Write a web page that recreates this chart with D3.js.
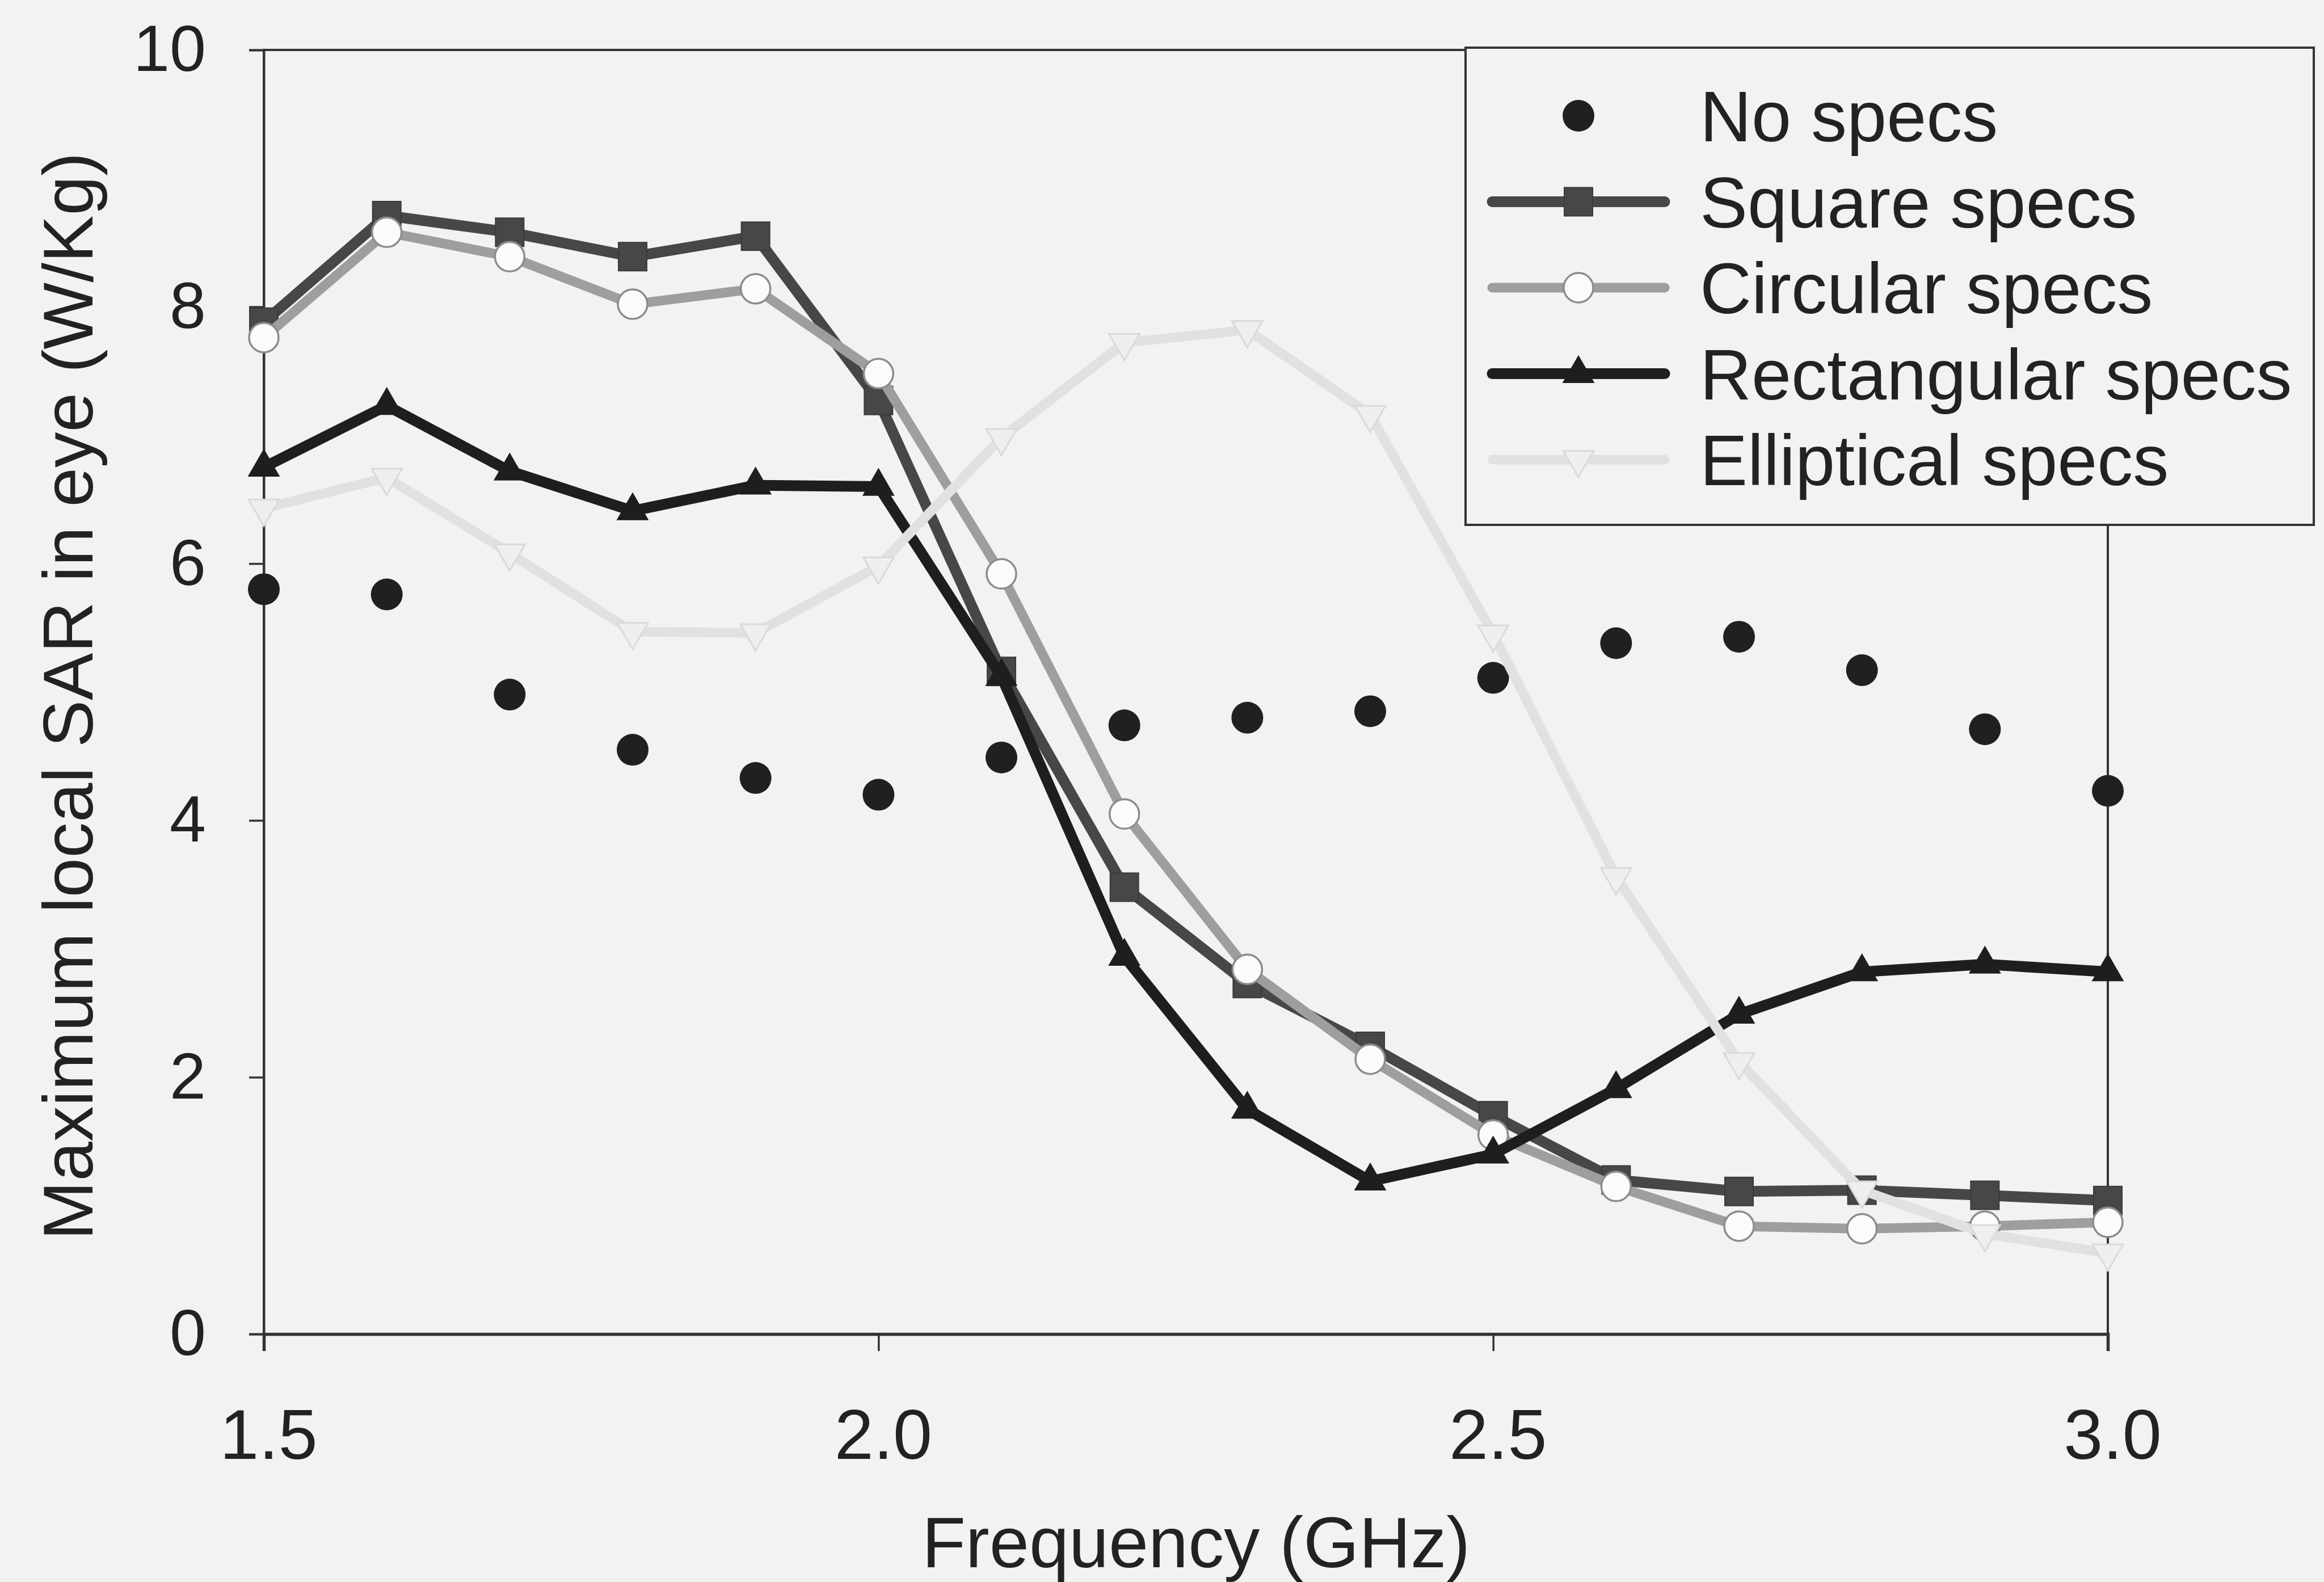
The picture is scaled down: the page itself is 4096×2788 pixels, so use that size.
<!DOCTYPE html>
<html>
<head>
<meta charset="utf-8">
<script src="https://cdn.jsdelivr.net/npm/d3@7"></script>
<style>
  html, body { margin: 0; padding: 0; background: #f2f2f2; }
  svg { display: block; }
  text { font-family: "Liberation Sans", Arial, sans-serif; fill: #222; }
</style>
</head>
<body>
<svg id="chart" width="4096" height="2788"></svg>
<script>
// Frequency sweep (GHz)
const frequency = [1.5, 1.6, 1.7, 1.8, 1.9, 2.0, 2.1, 2.2, 2.3, 2.4, 2.5, 2.6, 2.7, 2.8, 2.9, 3.0];

// Maximum local SAR in the eye (W/Kg) for each spectacle shape
const noSpecs     = [5.80, 5.76, 4.98, 4.55, 4.33, 4.20, 4.49, 4.74, 4.80, 4.85, 5.11, 5.38, 5.43, 5.17, 4.71, 4.23];
const squareSpecs = [7.88, 8.71, 8.58, 8.39, 8.55, 7.27, 5.16, 3.48, 2.73, 2.24, 1.70, 1.20, 1.11, 1.12, 1.08, 1.04];
const circSpecs   = [7.76, 8.58, 8.39, 8.02, 8.14, 7.48, 5.92, 4.05, 2.84, 2.14, 1.55, 1.15, 0.84, 0.82, 0.84, 0.87];
const rectSpecs   = [6.75, 7.23, 6.72, 6.41, 6.61, 6.60, 5.12, 2.94, 1.75, 1.19, 1.40, 1.91, 2.49, 2.82, 2.88, 2.82];
const ellipSpecs  = [6.43, 6.67, 6.08, 5.47, 5.46, 5.98, 6.98, 7.72, 7.82, 7.16, 5.45, 3.56, 2.12, 1.12, 0.78, 0.63];

const seriesNames = ["No specs", "Square specs", "Circular specs", "Rectangular specs", "Elliptical specs"];

// Axis ticks
const xTicks = [1.5, 2.0, 2.5, 3.0];
const xTickLabels = ["1.5", "2.0", "2.5", "3.0"];
const yTicks = [0, 2, 4, 6, 8, 10];

const xTitle = "Frequency (GHz)";
const yTitle = "Maximum local SAR in eye (W/Kg)";

// ---- layout ----
const svg = d3.select("#chart");
const W = 4096, H = 2788;
const plot = { left: 465, right: 3715, top: 88, bottom: 2351 };

svg.append("rect").attr("width", W).attr("height", H).attr("fill", "#f2f2f2");

const x = d3.scaleLinear().domain([1.5, 3.0]).range([plot.left, plot.right]);
const y = d3.scaleLinear().domain([0, 10]).range([plot.bottom, plot.top]);

// plot frame
svg.append("rect")
  .attr("x", plot.left).attr("y", plot.top)
  .attr("width", plot.right - plot.left).attr("height", plot.bottom - plot.top)
  .attr("fill", "none").attr("stroke", "#333").attr("stroke-width", 4);

// axes
const yAxis = svg.append("g")
  .attr("transform", `translate(${plot.left},0)`)
  .call(d3.axisLeft(y).tickValues(yTicks).tickFormat(d3.format("d")).tickSize(26).tickPadding(76));
yAxis.select(".domain").attr("stroke", "#333").attr("stroke-width", 4);
yAxis.selectAll(".tick line").attr("stroke", "#333").attr("stroke-width", 3.5);
yAxis.selectAll(".tick text").attr("font-size", 115).attr("fill", "#222")
  .style("font-family", "'Liberation Sans', Arial, sans-serif");

const xAxis = svg.append("g")
  .attr("transform", `translate(0,${plot.bottom})`)
  .call(d3.axisBottom(x).tickValues(xTicks).tickFormat((d, i) => xTickLabels[i]).tickSize(30).tickPadding(102));
xAxis.select(".domain").attr("stroke", "#333").attr("stroke-width", 5.5);
xAxis.selectAll(".tick line").attr("stroke", "#333").attr("stroke-width", 3.5);
xAxis.selectAll(".tick text").attr("font-size", 124).attr("fill", "#222")
  .attr("dx", 8)
  .style("font-family", "'Liberation Sans', Arial, sans-serif");

// axis titles
svg.append("text")
  .attr("x", 2108).attr("y", 2762)
  .attr("text-anchor", "middle").attr("font-size", 126)
  .text(xTitle);

svg.append("text")
  .attr("transform", "translate(163,1227) rotate(-90)")
  .attr("text-anchor", "middle").attr("font-size", 125)
  .text(yTitle);

// ---- series styles ----
const styles = [
  { name: seriesNames[0], values: noSpecs, line: null, lw: 0,
    symbol: d3.symbolCircle, size: Math.PI * 28 * 28, fill: "#202020", stroke: "none", sw: 0, rot: 0 },
  { name: seriesNames[1], values: squareSpecs, line: "#474747", lw: 19,
    symbol: d3.symbolSquare, size: 50 * 50, fill: "#474747", stroke: "#3a3a3a", sw: 2, rot: 0 },
  { name: seriesNames[2], values: circSpecs, line: "#9e9e9e", lw: 17,
    symbol: d3.symbolCircle, size: Math.PI * 26 * 26, fill: "#fbfbfb", stroke: "#8c8c8c", sw: 3.5, rot: 0 },
  { name: seriesNames[3], values: rectSpecs, line: "#1e1e1e", lw: 19,
    symbol: d3.symbolTriangle, size: 1400, fill: "#1e1e1e", stroke: "none", sw: 0, rot: 0 },
  { name: seriesNames[4], values: ellipSpecs, line: "#e1e1e1", lw: 17,
    symbol: d3.symbolTriangle, size: 1250, fill: "#efefef", stroke: "#dadada", sw: 3, rot: 180 }
];

const lineGen = d3.line().x((d, i) => x(frequency[i])).y(d => y(d));

const seriesG = svg.append("g");
styles.forEach(s => {
  const g = seriesG.append("g");
  if (s.line) {
    g.append("path")
      .datum(s.values)
      .attr("d", lineGen)
      .attr("fill", "none")
      .attr("stroke", s.line)
      .attr("stroke-width", s.lw)
      .attr("stroke-linejoin", "miter");
  }
  g.selectAll("path.mark")
    .data(s.values)
    .join("path")
    .attr("class", "mark")
    .attr("d", d3.symbol().type(s.symbol).size(s.size))
    .attr("transform", (d, i) => `translate(${x(frequency[i])},${y(d)}) rotate(${s.rot})`)
    .attr("fill", s.fill)
    .attr("stroke", s.stroke)
    .attr("stroke-width", s.sw);
});

// ---- legend ----
const legend = { x: 2583, y: 84, w: 1495, h: 841 };
const lg = svg.append("g");
lg.append("rect")
  .attr("x", legend.x).attr("y", legend.y)
  .attr("width", legend.w).attr("height", legend.h)
  .attr("fill", "#f2f2f2").attr("stroke", "#333").attr("stroke-width", 4);

const rowY0 = 204, rowStep = 151.5;
const sampleX0 = 2630, sampleX1 = 2934, sampleMid = 2782, textX = 2996;

styles.forEach((s, i) => {
  const cy = rowY0 + i * rowStep;
  if (s.line) {
    lg.append("line")
      .attr("x1", sampleX0).attr("x2", sampleX1)
      .attr("y1", cy).attr("y2", cy)
      .attr("stroke", s.line).attr("stroke-width", s.lw)
      .attr("stroke-linecap", "round");
  }
  lg.append("path")
    .attr("d", d3.symbol().type(s.symbol).size(s.size))
    .attr("transform", `translate(${sampleMid},${cy}) rotate(${s.rot})`)
    .attr("fill", s.fill).attr("stroke", s.stroke).attr("stroke-width", s.sw);
  lg.append("text")
    .attr("x", textX).attr("y", cy)
    .attr("dy", "0.36em")
    .attr("font-size", 126)
    .text(s.name);
});
</script>
</body>
</html>
